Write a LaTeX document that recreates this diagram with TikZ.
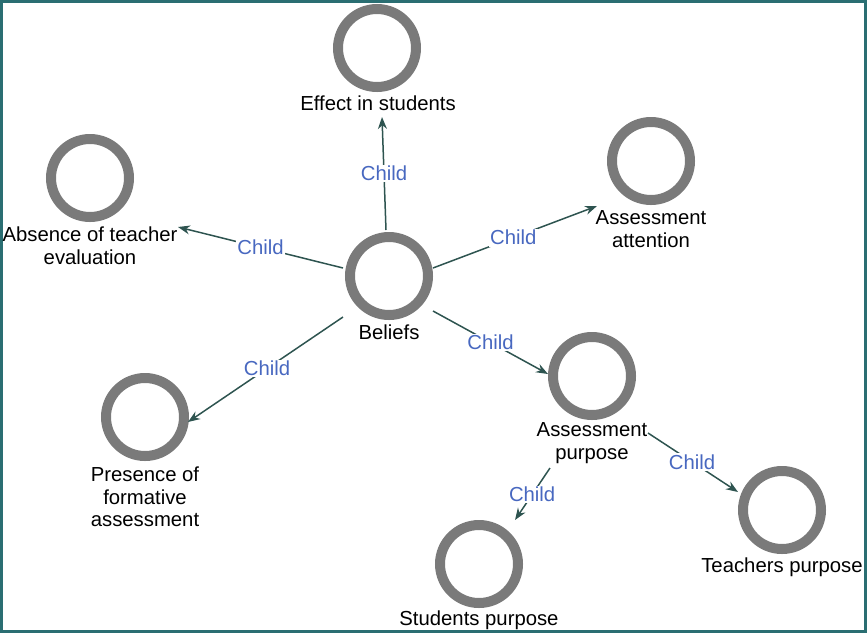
\documentclass[tikz,border=0pt]{standalone}
\usepackage{fontspec}
\setmainfont{Liberation Sans}
\usetikzlibrary{arrows.meta,calc}
\definecolor{frame}{RGB}{42,110,114}
\definecolor{ring}{RGB}{122,122,122}
\definecolor{edgec}{RGB}{46,84,80}
\definecolor{childc}{RGB}{72,104,192}
\begin{document}
\begin{tikzpicture}[x=1pt,y=-1pt,
  ent/.style={circle,draw=ring,line width=10pt,minimum size=78pt,inner sep=0pt},
  lbl/.style={align=center,font=\fontsize{20.3}{22.5}\selectfont,inner sep=0pt,text=black},
  rel/.style={draw=edgec,line width=1.5pt,-{Stealth[length=12pt,width=9pt]}},
  chl/.style={fill=white,inner sep=1.5pt,text=childc,font=\fontsize{20.3}{22.5}\selectfont}]
\useasboundingbox (0,0) rectangle (867,633);
\draw[frame,line width=3pt] (1.5,1.5) rectangle (865.5,631.5);
% entities
\node[ent] (bel) at (389,276) {};
\node[ent] (eff) at (377,48) {};
\node[ent] (abs) at (90,178) {};
\node[ent] (att) at (651,161) {};
\node[ent] (pur) at (592,376) {};
\node[ent] (pre) at (145,417) {};
\node[ent] (stu) at (479,564) {};
\node[ent] (tea) at (782,510) {};
% labels
\node[lbl] (bellbl) at (389,332) {Beliefs};
\node[lbl] (efflbl) at (378,103) {Effect in students};
\node[lbl] (abslbl) at (90,245.5) {Absence of teacher\\evaluation};
\node[lbl] (attlbl) at (651,229) {Assessment\\attention};
\node[lbl] (purlbl) at (592,443) {Assessment\\purpose};
\node[lbl] (prelbl) at (145,497) {Presence of\\formative\\assessment};
\node[lbl] (stulbl) at (479,620) {Students purpose};
\node[lbl] (tealbl) at (782,567) {Teachers purpose};
% connectors
\draw[rel] ($(bel)+(-3,-46)$) -- node[chl,pos=0.5] {Child} ($(efflbl)+(4,14)$);
\draw[rel] ($(bel)+(-46,-8)$) -- node[chl,pos=0.5] {Child} ($(abslbl)+(88,-18.5)$);
\draw[rel] ($(bel)+(44,-8)$) -- node[chl,pos=0.49] {Child} ($(attlbl)+(-54,-23)$);
\draw[rel] ($(bel)+(44,35)$) -- node[chl,pos=0.5] {Child} ($(pur)+(-44,-2)$);
\draw[rel] ($(bel)+(-46,41)$) -- node[chl,pos=0.49] {Child} ($(pre)+(43,5)$);
\draw[rel] ($(purlbl)+(56,-10)$) -- node[chl,pos=0.49] {Child} ($(tea)+(-44,-18)$);
\draw[rel] ($(purlbl)+(-42,25)$) -- node[chl,pos=0.51] {Child} ($(stu)+(36,-44)$);
\end{tikzpicture}
\end{document}
